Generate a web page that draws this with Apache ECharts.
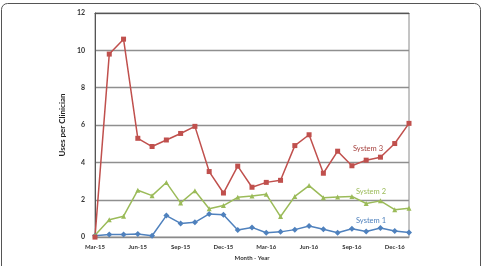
<!DOCTYPE html>
<html>
<head>
<meta charset="utf-8">
<script src="https://cdn.jsdelivr.net/npm/echarts@6/dist/echarts.min.js"></script>
<style>
  html, body { margin: 0; padding: 0; background: #fff; }
  #charts { width: 485px; height: 266px; }
</style>
</head>
<body>
<div id="charts"></div>
<script>
var months = ['Mar-15','Apr-15','May-15','Jun-15','Jul-15','Aug-15','Sep-15','Oct-15','Nov-15','Dec-15',
              'Jan-16','Feb-16','Mar-16','Apr-16','May-16','Jun-16','Jul-16','Aug-16','Sep-16','Oct-16','Nov-16','Dec-16','Jan-17'];
var system1 = [0.07,0.14,0.14,0.17,0.07,1.15,0.73,0.79,1.24,1.2,0.38,0.52,0.23,0.28,0.4,0.59,0.42,0.23,0.45,0.3,0.49,0.33,0.25];
var system2 = [0.1,0.93,1.12,2.51,2.22,2.92,1.83,2.48,1.52,1.69,2.13,2.2,2.29,1.1,2.18,2.76,2.11,2.15,2.18,1.8,1.94,1.47,1.55];
var system3 = [0,9.8,10.6,5.29,4.85,5.2,5.55,5.93,3.51,2.36,3.8,2.67,2.93,3.04,4.9,5.48,3.42,4.6,3.82,4.12,4.28,5.01,6.09];
var yTicks = [0, 2, 4, 6, 8, 10, 12];

var font = 'Lato';
var myChart = echarts.init(document.getElementById('charts'));

var option = {
    animation: false,
    textStyle: { fontFamily: font },
    grid: { left: 95, right: 76, top: 13, bottom: 24, show: true, borderColor: '#8a8a8a', borderWidth: 1, backgroundColor: 'rgba(0,0,0,0)' },
    xAxis: [
        {
            type: 'category',
            data: months,
            boundaryGap: false,
            axisLine: { lineStyle: { color: '#8a8a8a', width: 1 } },
            axisTick: { show: false },
            axisLabel: { interval: 2, fontSize: 6, fontWeight: 'bold', color: '#333', margin: 7, fontFamily: font },
            name: 'Month - Year',
            nameLocation: 'middle',
            nameGap: 16,
            nameTextStyle: { fontSize: 6, fontWeight: 'bold', color: '#333', fontFamily: font }
        },
        {
            type: 'category',
            data: months,
            position: 'top',
            boundaryGap: false,
            axisLine: { lineStyle: { color: '#555' } },
            axisTick: { show: false },
            axisLabel: { show: false }
        }
    ],
    yAxis: {
        type: 'value',
        min: yTicks[0],
        max: yTicks[yTicks.length - 1],
        interval: 2,
        axisLine: { show: true, lineStyle: { color: '#555' } },
        axisTick: { show: false },
        axisLabel: { fontSize: 7, fontWeight: 'bold', color: '#333', margin: 10, fontFamily: font },
        splitLine: { show: true, lineStyle: { color: '#8f8f8f', width: 1.3, opacity: 1 } },
        name: 'Uses per Clinician',
        nameLocation: 'middle',
        nameGap: 19,
        nameTextStyle: { fontSize: 8, fontWeight: 'bold', color: '#222', fontFamily: font }
    },
    series: [
        {
            name: 'System 1', type: 'line', data: system1,
            symbol: 'diamond', symbolSize: 6,
            lineStyle: { color: '#4F81BD', width: 1.5 },
            itemStyle: { color: '#4F81BD' }
        },
        {
            name: 'System 2', type: 'line', data: system2,
            symbol: 'triangle', symbolSize: 5,
            lineStyle: { color: '#9BBB59', width: 1.5 },
            itemStyle: { color: '#9BBB59' }
        },
        {
            name: 'System 3', type: 'line', data: system3,
            symbol: 'rect', symbolSize: 5,
            lineStyle: { color: '#C0504D', width: 1.5 },
            itemStyle: { color: '#C0504D' }
        }
    ],
    graphic: [
        { type: 'rect', z: -10, shape: { x: 1.5, y: 3.5, width: 479, height: 290, r: 6 },
          style: { fill: null, stroke: '#555', lineWidth: 1 }, silent: true },
        { type: 'text', left: 353, top: 145, style: { text: 'System 3', fill: '#A5403D', font: '7.5px ' + font } },
        { type: 'text', left: 356, top: 188, style: { text: 'System 2', fill: '#9BBB59', font: '7.5px ' + font } },
        { type: 'text', left: 356, top: 217, style: { text: 'System 1', fill: '#4F81BD', font: '7.5px ' + font } }
    ]
};
myChart.setOption(option);
</script>
</body>
</html>
